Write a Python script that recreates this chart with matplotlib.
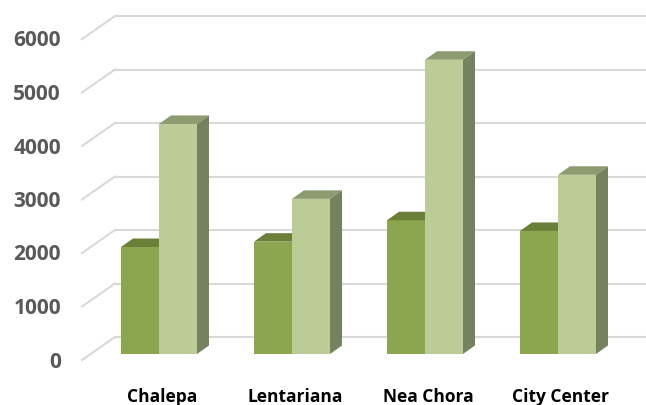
import matplotlib.pyplot as plt
from matplotlib.patches import Polygon

categories = ['Chalepa', 'Lentariana', 'Nea Chora', 'City Center']
series_a = [2000, 2100, 2500, 2300]
series_b = [4300, 2900, 5500, 3350]
yticks = [0, 1000, 2000, 3000, 4000, 5000, 6000]

# pixel scale of the bar plane
px_cat = 133.0      # px between groups
px_val = 0.0535     # px per unit value
x_c0 = 159.0        # px of first group center
y_base = 354.0      # px (from top) of bar baseline

W, H = 646, 405
fig = plt.figure(figsize=(W / 100, H / 100), dpi=100)
ax = fig.add_axes([0, 0, 1, 1])
ax.set_xlim(-x_c0 / px_cat, (W - x_c0) / px_cat)
ax.set_ylim((y_base - H) / px_val, y_base / px_val)
ax.axis('off')

def dxp(p):
    return p / px_cat

def dyp(p):
    return p / px_val

bw = dxp(38)            # bar width
ddx, ddy = dxp(12), dyp(8.5)   # bar depth
back_dy = dyp(17)       # bar plane -> back wall
wall_depth_y = dyp(23)

# back wall gridlines with their side diagonals
x_front = (82 - x_c0) / px_cat
x_back = (115 - x_c0) / px_cat
for v in yticks:
    yb = v + back_dy
    ax.plot([x_back, ax.get_xlim()[1]], [yb, yb], color='#d9d9d9', lw=1.5, zorder=1,
            solid_capstyle='butt')
    ax.plot([x_front, x_back], [yb - wall_depth_y, yb], color='#d9d9d9', lw=1.5, zorder=1)
    ax.text(x_front - dxp(21), yb - wall_depth_y - dyp(2), str(v), ha='right', va='center',
            fontsize=15, fontweight='bold', color='#595959', family='Open Sans')

def bar3d(x0, h, front, top, side):
    x1 = x0 + bw
    ax.add_patch(Polygon([(x0, 0), (x1, 0), (x1, h), (x0, h)], closed=True,
                         facecolor=front, edgecolor='none', zorder=3))
    ax.add_patch(Polygon([(x0, h), (x1, h), (x1 + ddx, h + ddy), (x0 + ddx, h + ddy)],
                         closed=True, facecolor=top, edgecolor='none', zorder=3))
    ax.add_patch(Polygon([(x1, 0), (x1 + ddx, ddy), (x1 + ddx, h + ddy), (x1, h)],
                         closed=True, facecolor=side, edgecolor='none', zorder=3))

for i, cat in enumerate(categories):
    bar3d(i - bw, series_a[i], '#8ba64f', '#6b7f39', '#5f7332')
    bar3d(i, series_b[i], '#bbcc96', '#8d9b70', '#758260')
    ax.text(i + dxp(3), dyp(y_base - 397), cat, ha='center', va='center',
            fontsize=12.5, fontweight='bold', color='black', family='Open Sans')

fig.savefig('out.png', dpi=100)
